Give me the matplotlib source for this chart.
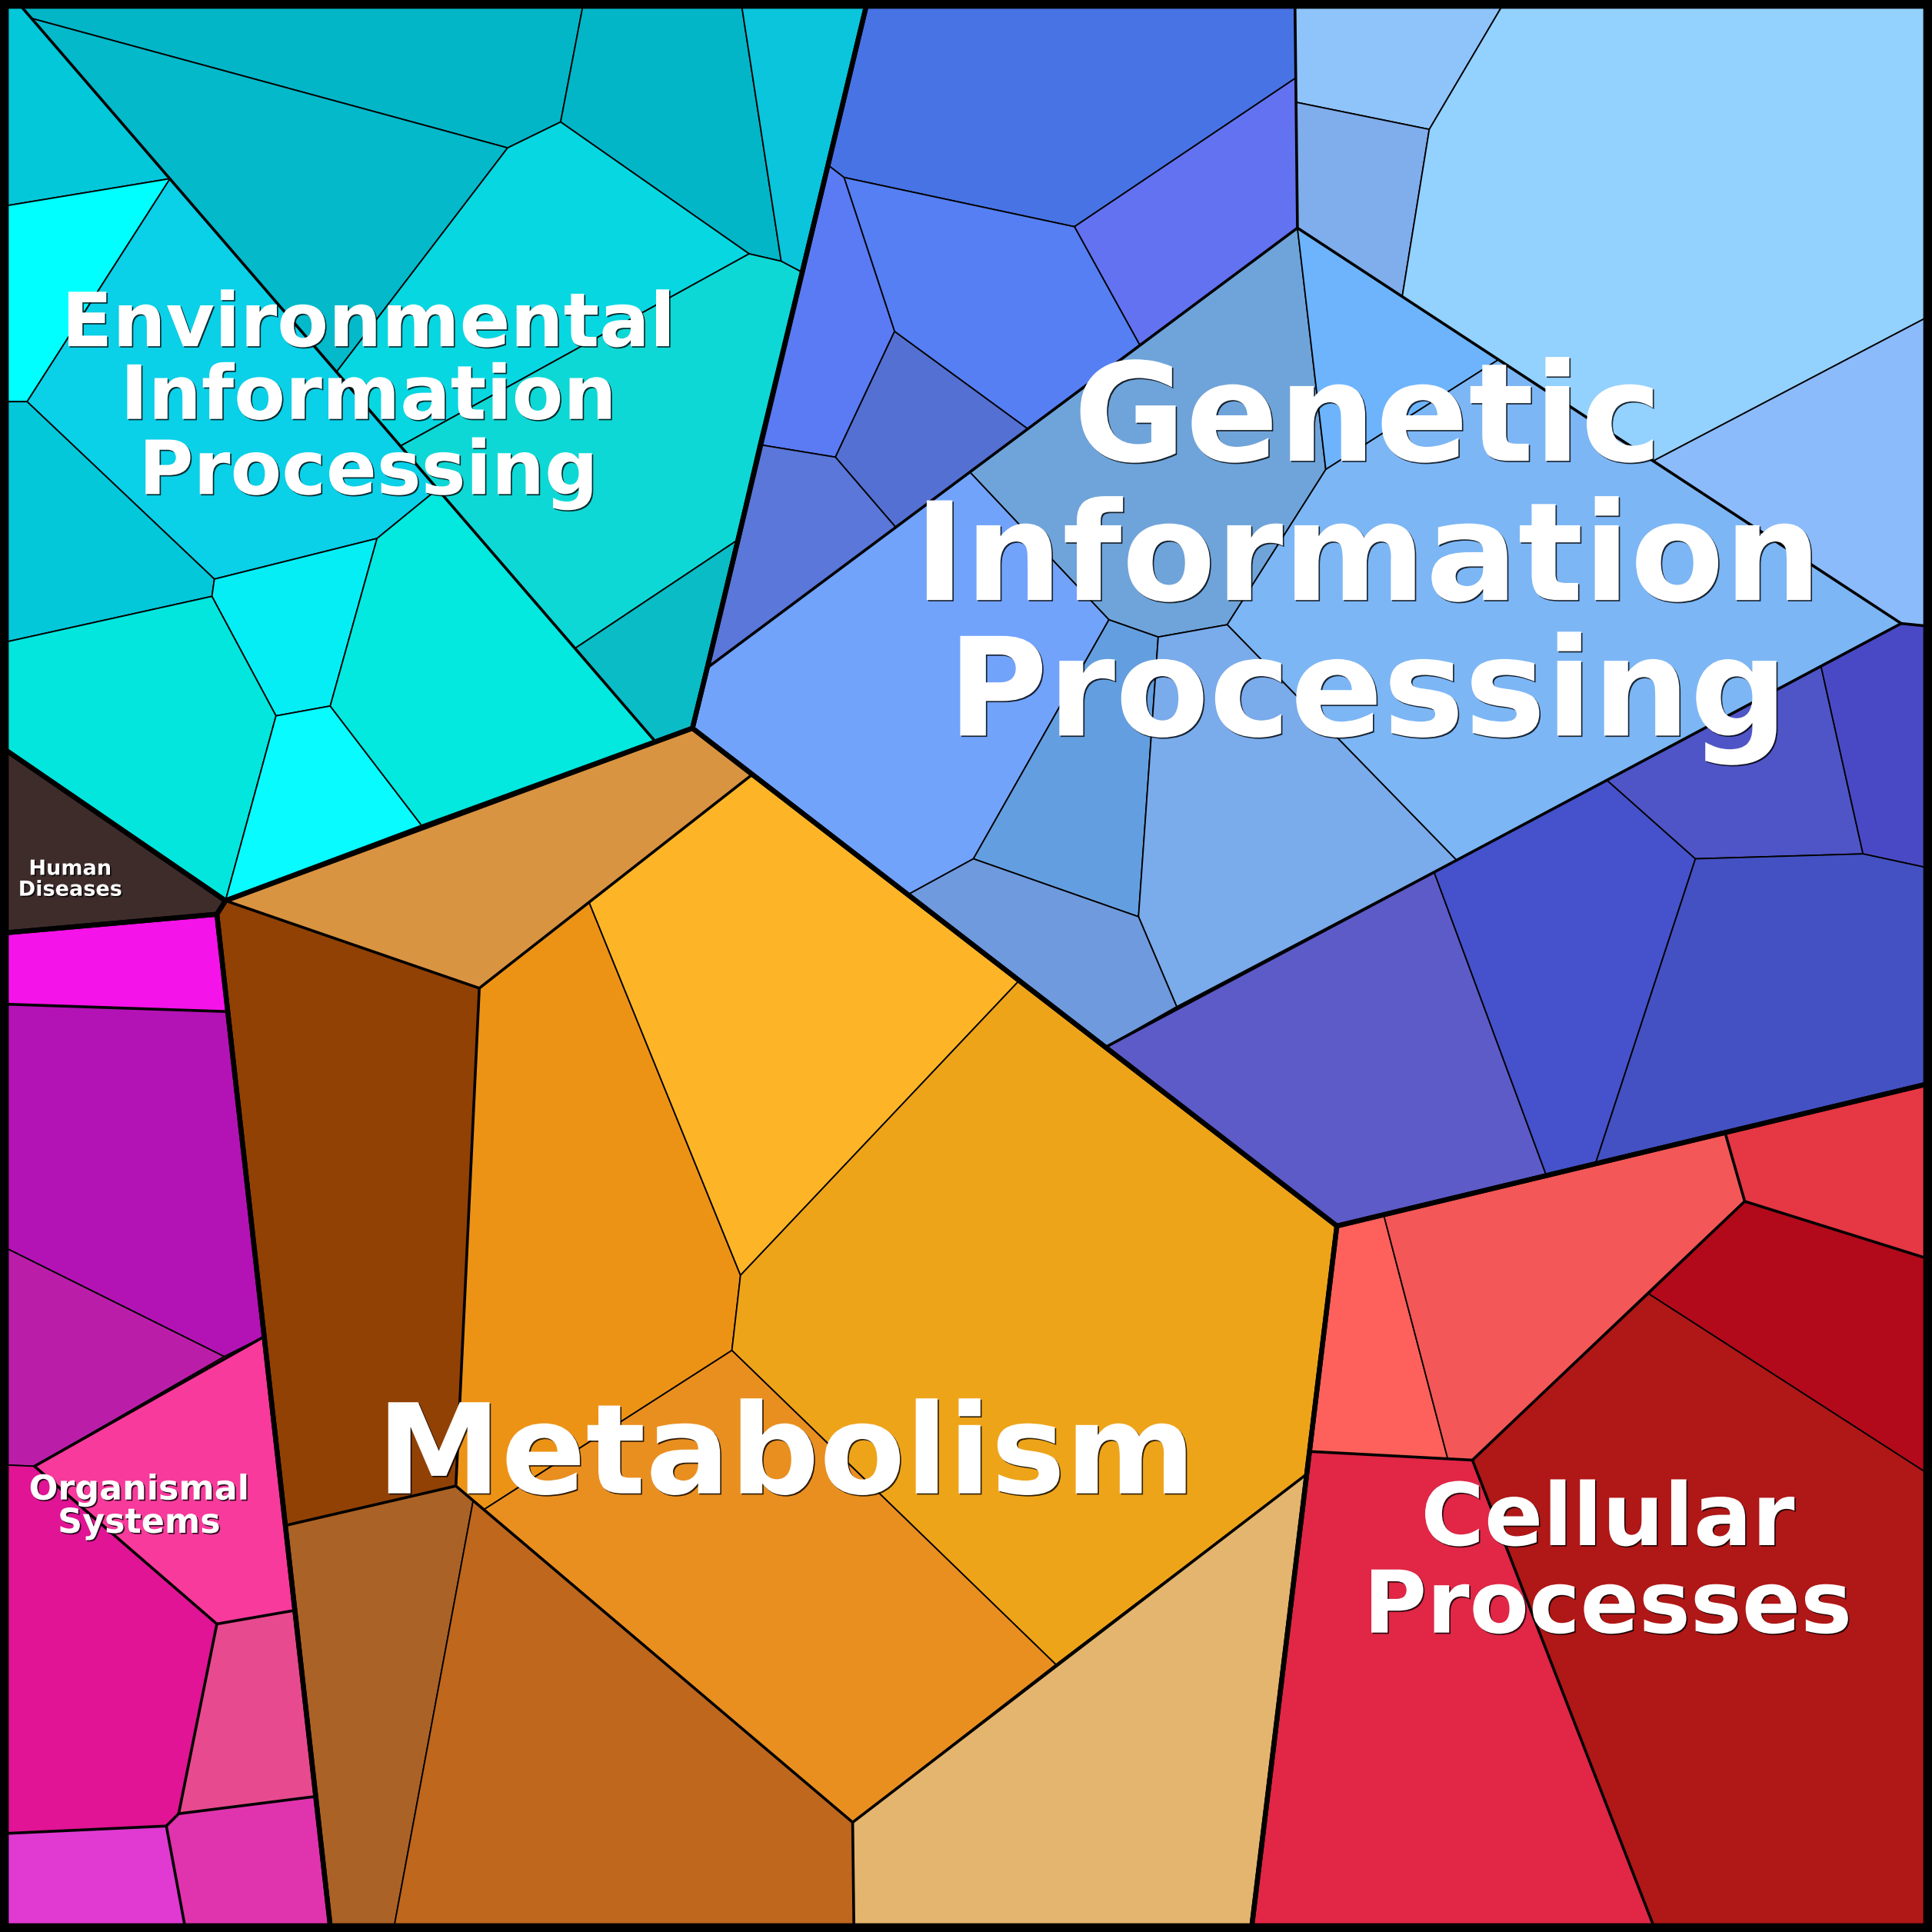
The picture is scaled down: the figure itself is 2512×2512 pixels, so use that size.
import matplotlib
matplotlib.use("Agg")
import matplotlib.pyplot as plt
from matplotlib.patches import Polygon
import matplotlib.patheffects as pe

# ---------------- data ----------------
group_names = ["Environmental Information Processing", "Human Diseases",
               "Organismal Systems", "Metabolism",
               "Genetic Information Processing", "Cellular Processes"]

# group outlines (Voronoi treemap level 1)
group_outlines = [
    [(5, 5), (703, 5), (672, 134), (651, 221), (617, 361), (599, 438), (574, 542),
     (562, 591), (532, 602), (343, 671), (183, 731), (5, 609)],
    [(5, 609), (183, 731), (176, 742), (5, 757)],
    [(5, 757), (176, 742), (268, 1563), (5, 1563)],
    [(183, 731), (562, 591), (1085, 995), (1016, 1563), (268, 1563), (176, 742)],
    [(703, 5), (1563, 5), (1563, 880), (1085, 995), (562, 591), (574, 542)],
    [(1085, 995), (1563, 880), (1563, 1563), (1016, 1563)],
]

# leaf cells: polygon + colour per group
env_cells = [
    [(17, 5), (473, 5), (455, 99), (412, 120), (26, 15)],
    [(26, 15), (412, 120), (273, 302)],
    [(473, 5), (602, 5), (634, 212), (608, 206), (455, 99)],
    [(602, 5), (703, 5), (651, 221), (634, 212)],
    [(412, 120), (455, 99), (608, 206), (325, 362), (273, 302)],
    [(608, 206), (634, 212), (651, 221), (599, 438), (467, 526), (325, 362)],
    [(599, 438), (562, 591), (532, 602), (467, 526)],
    [(5, 5), (17, 5), (138, 145), (5, 167)],
    [(5, 167), (138, 145), (22, 326), (5, 326)],
    [(138, 145), (355, 397), (306, 437), (174, 470), (22, 326)],
    [(5, 326), (22, 326), (174, 470), (172, 484), (5, 521)],
    [(174, 470), (306, 437), (268, 573), (224, 581), (172, 484)],
    [(5, 521), (172, 484), (224, 581), (183, 731), (5, 609)],
    [(224, 581), (268, 573), (343, 671), (183, 731)],
    [(306, 437), (355, 397), (532, 602), (343, 671), (268, 573)],
]
env_colors = ["#02b6c7", "#03b9ca", "#02b6c8", "#0ac5dc", "#07d7e1", "#0ed8d5",
              "#0abcc6", "#03c8da", "#00ffff", "#0ad0e8", "#03c8da", "#06eef5",
              "#02e6de", "#08fbff", "#03e8df"]

hd_cells = [[(5, 609), (183, 731), (176, 742), (5, 757)]]
hd_colors = ["#3e2c2b"]

org_cells = [
    [(5, 757), (176, 742), (185, 821), (5, 815)],
    [(5, 815), (185, 821), (214, 1085), (182, 1101), (5, 1013)],
    [(5, 1013), (182, 1101), (28, 1190), (5, 1189)],
    [(214, 1085), (239, 1307), (176, 1318), (28, 1190), (182, 1101)],
    [(5, 1189), (28, 1190), (176, 1318), (145, 1472), (135, 1482), (5, 1488)],
    [(176, 1318), (239, 1307), (256, 1458), (145, 1472)],
    [(5, 1488), (135, 1482), (150, 1563), (5, 1563)],
    [(135, 1482), (145, 1472), (256, 1458), (268, 1563), (150, 1563)],
]
org_colors = ["#f413e8", "#b313b5", "#ba1ea9", "#f73a9c", "#e01494", "#e74a8f",
              "#e03ad2", "#e034ae"]

met_cells = [
    [(183, 731), (562, 591), (610, 629), (389, 802)],
    [(176, 742), (183, 731), (389, 802), (370, 1206), (232, 1238)],
    [(389, 802), (478, 732), (601, 1035), (594, 1096), (393, 1225), (370, 1206)],
    [(478, 732), (610, 629), (827, 796), (601, 1035)],
    [(601, 1035), (827, 796), (1085, 995), (1061, 1196), (857, 1351), (594, 1096)],
    [(594, 1096), (857, 1351), (692, 1479), (393, 1225)],
    [(1061, 1196), (1016, 1563), (693, 1563), (692, 1479), (857, 1351)],
    [(232, 1238), (370, 1206), (384, 1218), (320, 1563), (268, 1563)],
    [(384, 1218), (393, 1225), (692, 1479), (693, 1563), (320, 1563)],
]
met_colors = ["#d99441", "#914104", "#ec9316", "#fdb527", "#eea419", "#e98f20",
              "#e4b56f", "#ab6226", "#be671d"]

gen_cells = [
    [(703, 5), (1051, 5), (1052, 63), (872, 184), (685, 144), (672, 134)],
    [(872, 184), (1052, 63), (1053, 185), (925, 280)],
    [(685, 144), (872, 184), (925, 280), (834, 348), (726, 269)],
    [(672, 134), (685, 144), (726, 269), (678, 371), (617, 361)],
    [(726, 269), (834, 348), (727, 428), (678, 371)],
    [(617, 361), (678, 371), (727, 428), (574, 542)],
    [(1051, 5), (1219, 5), (1160, 105), (1052, 83)],
    [(1052, 83), (1160, 105), (1138, 241), (1053, 185)],
    [(1219, 5), (1563, 5), (1563, 258), (1342, 374), (1138, 241), (1160, 105)],
    [(1342, 374), (1563, 258), (1563, 508), (1543, 506)],
    [(787, 383), (1053, 185), (1076, 381), (996, 507), (940, 517), (900, 503)],
    [(1053, 185), (1216, 292), (1076, 381)],
    [(1076, 381), (1216, 292), (1543, 506), (1182, 698), (996, 507)],
    [(574, 542), (787, 383), (900, 503), (790, 697), (737, 726), (562, 591)],
    [(900, 503), (940, 517), (924, 744), (790, 697)],
    [(940, 517), (996, 507), (1182, 698), (955, 817), (924, 744)],
    [(790, 697), (924, 744), (955, 817), (897, 850), (737, 726)],
    [(897, 850), (1164, 708), (1255, 954), (1085, 995)],
    [(1164, 708), (1304, 633), (1376, 697), (1295, 944), (1255, 954)],
    [(1304, 633), (1478, 541), (1512, 693), (1376, 697)],
    [(1478, 541), (1543, 506), (1563, 508), (1563, 704), (1512, 693)],
    [(1376, 697), (1512, 693), (1563, 704), (1563, 880), (1295, 944)],
]
gen_colors = ["#4873e5", "#6272f0", "#557ff3", "#5a7bf3", "#5470d2", "#5a77d9",
              "#8fc4fb", "#80adeb", "#93d1fe", "#8cbbfb", "#6fa4da", "#6db4fd",
              "#7cb6f5", "#72a3fb", "#639fe0", "#7aabeb", "#6f9ade", "#5d5bc8",
              "#4552cb", "#4f55c6", "#4a49c5", "#4451c2"]

cell_cells = [
    [(1085, 995), (1123, 986), (1175, 1184), (1063, 1178)],
    [(1123, 986), (1400, 919), (1416, 975), (1195, 1185), (1175, 1184)],
    [(1400, 919), (1563, 880), (1563, 1021), (1416, 975)],
    [(1416, 975), (1563, 1021), (1563, 1195), (1338, 1050)],
    [(1338, 1050), (1563, 1195), (1563, 1563), (1342, 1563), (1195, 1185)],
    [(1063, 1178), (1175, 1184), (1195, 1185), (1342, 1563), (1016, 1563)],
]
cell_colors = ["#fe615b", "#f35757", "#e63744", "#b20a1b", "#b01717", "#e12646"]

# level-2 (sub-category) boundaries
sub_borders = [
    [(17, 5), (532, 602)],
    [(1051, 5), (1053, 185)],
    [(574, 542), (1053, 185), (1543, 506), (1563, 508)],
    [(1543, 506), (897, 850)],
    [(183, 731), (389, 802), (610, 629)],
    [(389, 802), (370, 1206)],
    [(232, 1238), (370, 1206), (692, 1479), (693, 1563)],
    [(692, 1479), (1061, 1196)],
    [(1400, 919), (1416, 975), (1563, 1021)],
    [(1416, 975), (1195, 1185), (1342, 1563)],
    [(1063, 1178), (1195, 1185)],
    [(5, 815), (185, 821)],
    [(214, 1085), (28, 1190), (176, 1318), (145, 1472), (135, 1482), (150, 1563)],
    [(176, 1318), (239, 1307)],
    [(145, 1472), (256, 1458)],
    [(5, 1488), (135, 1482)],
]

# labels
label_lines = [
    ["Environmental", "Information", "Processing"],
    ["Human", "Diseases"],
    ["Organismal", "Systems"],
    ["Metabolism"],
    ["Genetic", "Information", "Processing"],
    ["Cellular", "Processes"],
]
label_x = [299, 57, 113, 638, 1110, 1305]
label_baselines = [[281, 340, 401], [710, 727], [1217, 1244], [1212],
                   [374, 487, 597], [1254, 1325]]
label_sizes = [70, 19.5, 32, 117, 128, 81]

# ---------------- drawing ----------------
fig = plt.figure(figsize=(25.12, 25.12), dpi=100, facecolor="black")
ax = fig.add_axes([0, 0, 1, 1])
ax.set_xlim(0, 1568)
ax.set_ylim(1568, 0)
ax.axis("off")

THIN, MED, THICK = 1.3, 2.6, 4.6

for cells, cols in [(env_cells, env_colors), (hd_cells, hd_colors),
                    (org_cells, org_colors), (met_cells, met_colors),
                    (gen_cells, gen_colors), (cell_cells, cell_colors)]:
    for verts, c in zip(cells, cols):
        ax.add_patch(Polygon(verts, closed=True, facecolor=c, edgecolor="black",
                             linewidth=THIN, joinstyle="round", zorder=1))

for line in sub_borders:
    xs, ys = zip(*line)
    ax.plot(xs, ys, color="black", lw=MED, solid_joinstyle="round",
            solid_capstyle="round", zorder=2)

for outline in group_outlines:
    ax.add_patch(Polygon(outline, closed=True, facecolor="none", edgecolor="black",
                         linewidth=THICK, joinstyle="round", zorder=3))

ax.add_patch(Polygon([(5, 5), (1563, 5), (1563, 1563), (5, 1563)], closed=True,
                     facecolor="none", edgecolor="black", linewidth=THICK, zorder=3))

shadow = [pe.SimplePatchShadow(offset=(1.2, -1.2), shadow_rgbFace="black", alpha=0.8),
          pe.Normal()]
for lines, x, bls, sz in zip(label_lines, label_x, label_baselines, label_sizes):
    for txt, b in zip(lines, bls):
        ax.text(x, b, txt, ha="center", va="baseline", fontsize=sz,
                fontweight="bold", color="white", family="DejaVu Sans",
                path_effects=shadow, zorder=5)

fig.savefig("out.png", dpi=100, facecolor="black")
